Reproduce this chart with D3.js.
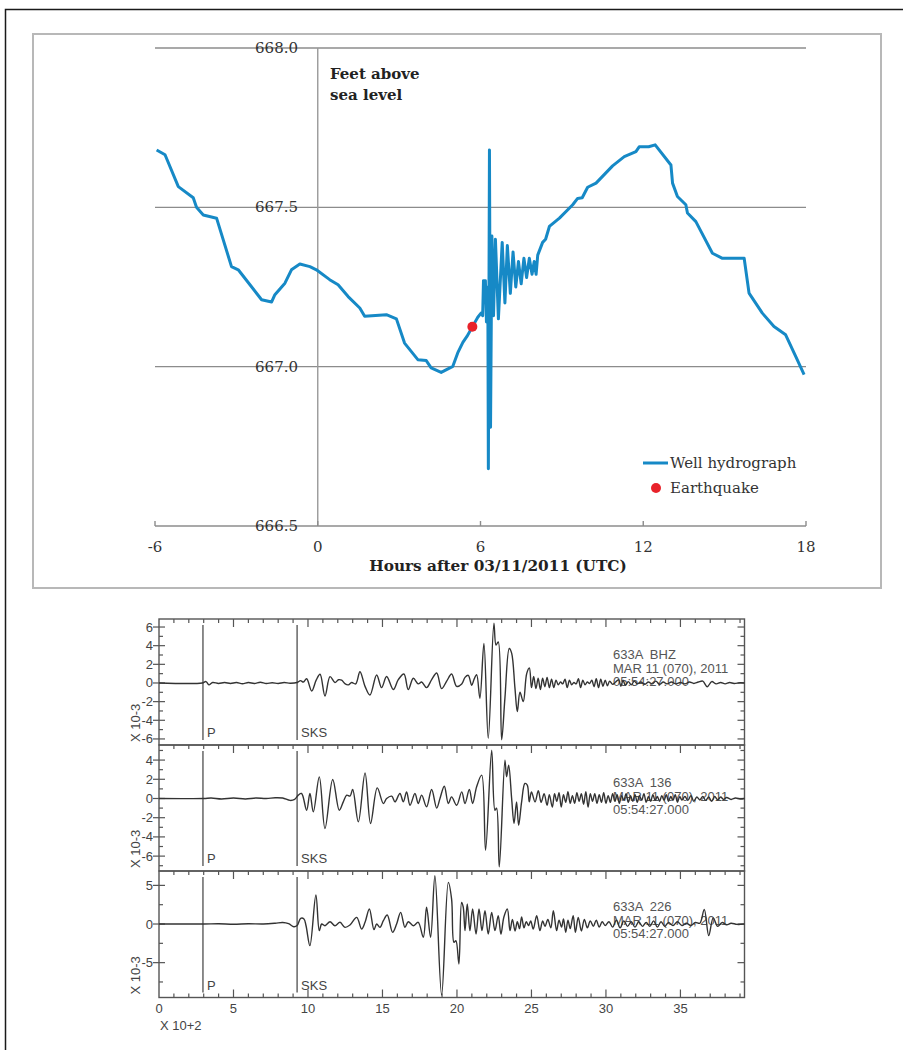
<!DOCTYPE html>
<html><head><meta charset="utf-8">
<script src="https://cdn.jsdelivr.net/npm/d3@7"></script>
<style>body{margin:0;background:#fff}</style>
</head><body>
<svg id="c" width="903" height="1050"></svg>
<script>
// ---------- Well hydrograph data ----------
const hydroHours = [-5.94,-5.63,-5.14,-4.59,-4.47,-4.22,-3.73,-3.18,-2.93,-2.07,-1.70,-1.58,-1.21,-0.97,-0.66,-0.29,-0.05,0.44,0.75,1.12,1.55,1.73,2.53,2.90,3.20,3.69,4.00,4.18,4.55,4.98,5.16,5.35,5.50,5.72,5.90,6.02,6.08,6.11,6.18,6.22,6.27,6.29,6.33,6.37,6.42,6.48,6.55,6.66,6.80,6.90,6.99,7.10,7.20,7.30,7.40,7.50,7.60,7.70,7.80,7.90,7.98,8.05,8.11,8.29,8.40,8.54,8.91,9.40,9.58,9.75,9.95,10.26,10.87,11.30,11.73,11.85,12.20,12.44,13.02,13.08,13.26,13.57,13.63,13.94,14.55,14.92,15.72,15.90,16.39,16.82,17.25,17.62,17.93];
const hydroFeet = [667.68,667.665,667.565,667.53,667.50,667.476,667.466,667.314,667.304,667.21,667.203,667.226,667.262,667.304,667.322,667.314,667.304,667.273,667.257,667.22,667.184,667.158,667.163,667.15,667.074,667.022,667.019,666.996,666.982,667.001,667.043,667.076,667.095,667.128,667.155,667.168,667.16,667.27,667.27,667.14,667.25,666.68,667.68,666.81,667.41,667.16,667.40,667.15,667.39,667.20,667.38,667.23,667.36,667.25,667.33,667.26,667.34,667.28,667.34,667.29,667.33,667.29,667.35,667.39,667.40,667.44,667.466,667.508,667.528,667.53,667.563,667.576,667.63,667.659,667.675,667.69,667.69,667.696,667.633,667.576,667.534,667.508,667.482,667.455,667.356,667.34,667.34,667.231,667.168,667.126,667.10,667.032,666.975];
const quakeHour = [5.70];
const quakeFeet = [667.125];
const hydroXTicks = [-6, 0, 6, 12, 18];
const hydroYTicks = [666.5, 667.0, 667.5, 668.0];
const legendLabels = ["Well hydrograph", "Earthquake"];

// ---------- Seismogram data (x in units of 100 s, amplitude x 10^-3) ----------
const bhzT = [0,2.9,3.15,3.35,3.6,4.0,4.4,4.8,5.2,5.6,6.0,6.4,6.8,7.2,7.6,8.0,8.4,8.8,9.27,9.5,9.69,9.91,10.25,10.55,10.81,11.14,11.48,11.81,12.05,12.26,12.5,12.71,12.93,13.2,13.49,13.83,14.16,14.61,14.94,15.28,15.73,16.06,16.44,16.73,17.07,17.4,17.63,17.96,18.3,18.64,18.97,19.31,19.64,19.98,20.32,20.54,20.76,20.99,21.15,21.32,21.54,21.81,22.1,22.48,22.62,22.77,23.0,23.22,23.51,23.67,23.89,24.05,24.23,24.45,24.68,24.86,25.0,25.15,25.3,25.45,25.6,25.75,25.9,26.05,26.2,26.35,26.5,26.65,26.8,26.95,27.1,27.25,27.4,27.55,27.7,27.85,28.0,28.15,28.3,28.45,28.6,28.75,28.9,29.05,29.2,29.35,29.5,29.65,29.8,29.95,30.1,30.25,30.45,30.65,30.85,31.0,31.15,31.3,31.5,31.7,31.9,32.1,32.35,32.6,32.85,33.1,33.35,33.6,33.85,34.1,34.4,34.7,35.0,35.3,35.6,35.9,36.2,36.5,36.8,37.1,37.4,37.7,38.0,38.3,38.6,39.0,39.3];
const bhzV = [0,0,0.15,-0.2,0.05,-0.05,0.05,-0.05,0.05,-0.08,0.05,-0.05,0.08,-0.05,0.03,-0.05,0.05,-0.03,0.05,0.25,0.1,0.45,-0.86,0.3,0.93,-1.39,0.68,0.05,0.35,0.3,-0.1,-0.2,0.05,-0.1,1.21,-0.36,-1.29,0.86,-0.5,0.7,-0.7,0.36,0.96,-0.71,0.5,-0.1,0.1,-0.5,0.36,1.07,-0.6,0.2,0.96,-0.36,-0.1,0.6,0.82,-0.25,0.4,0.89,-1.64,4.25,-5.93,6.4,4.07,4.4,-6.1,-1.6,3.7,3.2,-0.5,-3.07,-1.0,-2.0,1.0,1.6,-0.5,0.7,-0.6,0.5,-0.7,0.5,-0.4,0.6,-0.5,0.4,-0.5,0.3,-0.2,0.1,-0.1,0.4,-0.5,0.3,-0.2,0.05,-0.1,0.45,-0.5,0.3,-0.2,0.1,-0.05,0.3,-0.4,0.45,-0.5,0.4,-0.35,0.3,-0.3,0.2,-0.15,0.1,0.35,-0.35,0.3,-0.25,0.15,-0.2,0.2,-0.1,0.1,-0.15,0.1,-0.1,0.2,-0.15,0.1,-0.1,0.1,-0.1,0.05,-0.1,0.1,-0.05,0.1,0.2,-0.4,0.15,-0.1,0.05,-0.1,0.05,-0.05,0.02,0];

const r136T = [0,3.0,3.5,4.2,5.0,5.8,6.5,7.2,7.8,8.3,8.8,9.1,9.35,9.57,9.91,10.13,10.36,10.76,11.14,11.66,12.1,12.37,12.6,12.82,13.0,13.38,13.83,14.2,14.65,15.06,15.28,15.62,15.84,16.17,16.4,16.62,16.85,17.18,17.4,17.63,17.96,18.3,18.64,18.86,19.15,19.42,19.64,19.98,20.32,20.54,20.83,21.05,21.32,21.66,21.92,22.33,22.55,22.66,22.84,23.22,23.33,23.47,23.67,23.83,24.0,24.14,24.34,24.56,24.72,24.85,25.0,25.24,25.46,25.65,25.85,26.05,26.2,26.4,26.55,26.7,26.85,27.0,27.15,27.3,27.45,27.6,27.75,27.9,28.05,28.2,28.35,28.5,28.65,28.8,28.95,29.1,29.25,29.4,29.55,29.7,29.85,30.0,30.15,30.3,30.45,30.6,30.75,30.9,31.05,31.2,31.35,31.5,31.65,31.8,31.95,32.1,32.25,32.4,32.55,32.7,32.85,33.0,33.15,33.3,33.45,33.6,33.75,33.9,34.05,34.2,34.35,34.5,34.65,34.8,34.95,35.1,35.3,35.5,35.7,35.9,36.1,36.3,36.5,36.7,36.9,37.1,37.3,37.5,37.7,37.9,38.1,38.4,38.7,39.0,39.3];
const r136V = [0,0,0.05,-0.05,0.05,-0.05,0.05,0,0.08,0.05,-0.2,-0.1,0.35,0.52,-1.22,0.52,-1.39,2.25,-3.13,1.98,-1.22,-0.35,0.35,0.25,0.93,-2.43,2.67,-2.6,1.1,-0.52,0,0.24,-0.35,0.52,-0.35,0.69,-0.7,0.52,-0.52,0.35,-0.87,0.93,-1.0,0,1.28,-0.52,0.17,-0.7,0.69,-0.52,0.93,-0.52,1.22,2.43,-5.39,5.03,-1.22,-1.0,-7.12,3.99,2.25,3.47,0,-2.6,-0.35,-2.78,-0.35,1.56,1.4,-0.35,0.69,-0.35,0.8,-0.4,0.5,-0.7,0.4,-0.9,0.5,-0.3,0.6,-0.9,0.4,-0.4,0.7,-0.5,0.3,-0.5,0.6,-0.3,0.5,-0.6,0.7,-0.9,0.5,-0.3,0.5,-0.5,0.4,-0.4,0.6,-0.5,0.3,-0.4,0.5,-0.3,0.4,-0.5,0.3,-0.2,0.5,-0.4,0.3,-0.3,0.4,-0.4,0.3,-0.2,0.5,-0.4,0.2,-0.3,0.4,-0.2,0.2,-0.3,0.3,-0.2,0.4,-0.3,0.2,-0.2,0.4,-0.4,0.2,-0.15,0.2,-0.2,0.3,-0.3,0.15,-0.15,0.2,-0.2,0.15,-0.3,0.2,-0.15,0.15,-0.1,0.1,-0.1,0.05,-0.05,0];

const r226T = [0,3,4,5,6,7,7.8,8.3,8.7,9.05,9.27,9.51,9.73,9.87,10.13,10.53,10.76,10.92,11.14,11.48,11.81,12.15,12.48,12.82,13.27,13.6,13.83,14.12,14.43,14.61,14.83,15.06,15.32,15.68,15.95,16.22,16.51,16.73,17.07,17.4,17.74,17.96,18.23,18.52,18.97,19.42,19.64,19.8,19.93,20.13,20.31,20.42,20.54,20.69,20.87,21.05,21.28,21.48,21.68,21.88,22.1,22.33,22.55,22.77,22.95,23.15,23.38,23.56,23.72,23.9,24.05,24.2,24.34,24.5,24.65,24.8,24.95,25.12,25.35,25.57,25.75,25.91,26.1,26.3,26.47,26.69,26.85,27.02,27.15,27.3,27.45,27.6,27.8,27.95,28.14,28.35,28.55,28.75,28.95,29.15,29.35,29.55,29.75,29.95,30.2,30.45,30.7,30.95,31.2,31.45,31.7,31.95,32.2,32.45,32.7,32.95,33.2,33.45,33.7,33.95,34.2,34.5,34.8,35.1,35.4,35.7,36.0,36.3,36.6,36.9,37.2,37.5,37.8,38.1,38.4,38.8,39.3];
const r226V = [0,0,0.03,-0.03,0.03,0,0.1,0.2,0.05,-0.35,-0.2,0.73,0.65,-0.22,-2.8,3.75,-0.86,0,-0.22,0.3,-0.22,0.22,-0.43,-0.13,0.86,-0.65,0.22,1.94,-0.73,0,-0.43,0.43,1.16,-1.08,0,1.51,-0.43,0.3,-0.22,0.22,-1.72,2.16,-1.72,6.25,-9.19,5.39,3.23,-2.37,-2.16,-5.17,2.8,2.2,-0.86,2.59,-0.86,1.94,-1.29,1.94,-0.86,1.72,-1.29,1.51,-0.86,1.08,-1.3,0.9,1.94,-0.86,0.6,-0.9,0.3,-0.6,0.9,-0.5,0.3,-0.2,0.4,-0.65,1.08,-0.86,0.4,-0.3,0.6,-0.5,1.72,-0.86,0.5,-0.4,0.65,-1.08,0.5,-0.6,1.08,-1.08,0.86,-0.9,0.6,-0.5,0.4,-0.3,0.5,-0.4,0.3,-0.2,0.3,-0.4,0.5,-0.5,0.4,-0.3,0.3,-0.4,0.3,-0.3,0.2,-0.3,0.4,-0.4,0.3,-0.3,0.2,-0.2,0.3,-0.2,0.1,-0.2,0.2,0.1,1.9,-1.5,0.8,-0.3,0.2,-0.1,0.1,-0.05,0];

const stationLabels = [["633A  BHZ","MAR 11 (070), 2011","05:54:27.000"],["633A  136","MAR 11 (070), 2011","05:54:27.000"],["633A  226","MAR 11 (070), 2011","05:54:27.000"]];
const panelLabelTicks = [[-6,-4,-2,0,2,4,6],[-6,-4,-2,0,2,4],[-5,0,5]];
const panelMinorStep = [1,1,2.5];
const panelDomains = [[-6.65,6.86],[-7.55,5.57],[-9.51,6.86]];
const seisXTicks = [0,5,10,15,20,25,30,35];
const phaseTimes = [2.95, 9.27];
const phaseNames = ["P","SKS"];

// ---------- Drawing ----------
const svg = d3.select("#c");
const serif = "'DejaVu Serif', serif";
const sans = "'Liberation Sans', Arial, sans-serif";

svg.append("rect").attr("x",5.5).attr("y",9.5).attr("width",1000).attr("height",1100)
  .attr("fill","none").attr("stroke","#1a1a1a").attr("stroke-width",1.5);
svg.append("rect").attr("x",33).attr("y",34).attr("width",848).attr("height",554)
  .attr("fill","#fff").attr("stroke","#b8b8b8").attr("stroke-width",2);

const hx = d3.scaleLinear().domain([-6,18]).range([155,806]);
const hy = d3.scaleLinear().domain([666.5,668]).range([526,48]);
const gTop = svg.append("g");
gTop.selectAll("line.grid").data(hydroYTicks).join("line")
  .attr("x1",hx(-6)).attr("x2",hx(18)).attr("y1",d=>hy(d)).attr("y2",d=>hy(d))
  .attr("stroke","#8c8c8c").attr("stroke-width",1.4);
gTop.append("line").attr("x1",hx(0)).attr("x2",hx(0)).attr("y1",hy(668)).attr("y2",hy(666.5))
  .attr("stroke","#9a9a9a").attr("stroke-width",1.4);
gTop.selectAll("line.xt").data(hydroXTicks).join("line")
  .attr("x1",d=>hx(d)).attr("x2",d=>hx(d)).attr("y1",hy(666.5)).attr("y2",hy(666.5)-5)
  .attr("stroke","#8c8c8c").attr("stroke-width",1.4);
gTop.selectAll("text.yl").data(hydroYTicks).join("text")
  .attr("x",298).attr("y",d=>hy(d)+5).attr("text-anchor","end")
  .attr("font-family",serif).attr("font-size",15).attr("fill","#333").text(d=>d.toFixed(1));
gTop.selectAll("text.xl").data(hydroXTicks).join("text")
  .attr("x",d=>hx(d)).attr("y",552).attr("text-anchor","middle")
  .attr("font-family",serif).attr("font-size",15).attr("fill","#333").text(d=>d);
gTop.append("text").attr("x",498).attr("y",571).attr("text-anchor","middle")
  .attr("font-family",serif).attr("font-weight","bold").attr("font-size",15.3).attr("fill","#222")
  .text("Hours after 03/11/2011 (UTC)");
gTop.append("text").attr("x",330).attr("y",79).attr("font-family",serif).attr("font-weight","bold")
  .attr("font-size",15).attr("fill","#222").text("Feet above");
gTop.append("text").attr("x",330).attr("y",100).attr("font-family",serif).attr("font-weight","bold")
  .attr("font-size",15).attr("fill","#222").text("sea level");

const hdata = hydroHours.map((h,i)=>[h,hydroFeet[i]]);
gTop.append("path").datum(hdata)
  .attr("d",d3.line().x(d=>hx(d[0])).y(d=>hy(d[1])))
  .attr("fill","none").attr("stroke","#1689c6").attr("stroke-width",3).attr("stroke-linejoin","round");
gTop.selectAll("circle.q").data(quakeHour).join("circle")
  .attr("cx",d=>hx(d)).attr("cy",(d,i)=>hy(quakeFeet[i])).attr("r",5).attr("fill","#e8222a");

gTop.append("line").attr("x1",643).attr("x2",668).attr("y1",463).attr("y2",463)
  .attr("stroke","#1689c6").attr("stroke-width",3);
gTop.append("circle").attr("cx",656).attr("cy",488).attr("r",5).attr("fill","#e8222a");
gTop.selectAll("text.lg").data(legendLabels).join("text")
  .attr("x",670).attr("y",(d,i)=>468+i*25).attr("font-family",serif).attr("font-size",15)
  .attr("fill","#333").text(d=>d);

// Seismograms
const sx = d3.scaleLinear().domain([0,39.3]).range([159,744.5]);
const panelTops = [619,745,871];
const panelBots = [745,871,997.5];
const traces = [[bhzT,bhzV],[r136T,r136V],[r226T,r226V]];
const frameCol = "#555";
const gBot = svg.append("g");

traces.forEach((tr,p)=>{
  const y = d3.scaleLinear().domain(panelDomains[p]).range([panelBots[p],panelTops[p]]);
  const g = gBot.append("g");
  g.append("rect").attr("x",sx(0)).attr("y",panelTops[p]).attr("width",sx(39.3)-sx(0))
    .attr("height",panelBots[p]-panelTops[p]).attr("fill","none").attr("stroke",frameCol).attr("stroke-width",1.4);
  const xt = d3.range(1,40);
  g.selectAll("line.tt").data(xt).join("line")
    .attr("x1",d=>sx(d)).attr("x2",d=>sx(d)).attr("y1",panelTops[p])
    .attr("y2",d=>panelTops[p]+(d%5===0?8:4)).attr("stroke",frameCol).attr("stroke-width",1.2);
  if(p===2){
    g.selectAll("line.bt").data(xt).join("line")
      .attr("x1",d=>sx(d)).attr("x2",d=>sx(d)).attr("y1",panelBots[p])
      .attr("y2",d=>panelBots[p]-(d%5===0?8:4)).attr("stroke",frameCol).attr("stroke-width",1.2);
  }
  const step = panelMinorStep[p];
  const dom = panelDomains[p];
  const yt = d3.range(Math.ceil(dom[0]/step)*step, dom[1], step);
  const isMajor = v => panelLabelTicks[p].some(t=>Math.abs(t-v)<1e-6);
  g.selectAll("line.ly").data(yt).join("line")
    .attr("x1",d=>sx(0)-(isMajor(d)?6:0)).attr("x2",d=>sx(0)+(isMajor(d)?6:4))
    .attr("y1",d=>y(d)).attr("y2",d=>y(d)).attr("stroke",frameCol).attr("stroke-width",1.2);
  g.selectAll("line.ry").data(yt).join("line")
    .attr("x1",sx(39.3)).attr("x2",d=>sx(39.3)-(isMajor(d)?7:4))
    .attr("y1",d=>y(d)).attr("y2",d=>y(d)).attr("stroke",frameCol).attr("stroke-width",1.2);
  g.selectAll("text.yl").data(panelLabelTicks[p]).join("text")
    .attr("x",sx(0)-6).attr("y",d=>y(d)+4.5).attr("text-anchor","end")
    .attr("font-family",sans).attr("font-size",13).attr("fill","#444").text(d=>d);
  g.append("text").attr("transform",`translate(140,${panelBots[p]-3}) rotate(-90)`)
    .attr("font-family",sans).attr("font-size",13).attr("fill","#444").text("X 10-3");
  phaseTimes.forEach((t,k)=>{
    g.append("line").attr("x1",sx(t)).attr("x2",sx(t)).attr("y1",panelTops[p]+6).attr("y2",panelBots[p]-5)
      .attr("stroke","#666").attr("stroke-width",1.5);
    g.append("text").attr("x",sx(t)+4).attr("y",panelBots[p]-8).attr("font-family",sans)
      .attr("font-size",13).attr("fill","#444").text(phaseNames[k]);
  });
  g.selectAll("text.st").data(stationLabels[p]).join("text")
    .attr("x",613).attr("y",(d,i)=>panelTops[p]+(p===1?42:40)+i*13.5)
    .attr("font-family",sans).attr("font-size",13).attr("fill","#555")
    .style("white-space","pre").text(d=>d);
  const data = tr[0].map((t,i)=>[t,tr[1][i]]);
  g.append("path").datum(data)
    .attr("d",d3.line().x(d=>sx(d[0])).y(d=>y(d[1])).curve(d3.curveCatmullRom.alpha(0.5)))
    .attr("fill","none").attr("stroke","#333").attr("stroke-width",1.4);
});
gBot.selectAll("text.xl").data(seisXTicks).join("text")
  .attr("x",d=>sx(d)).attr("y",1013).attr("text-anchor","middle")
  .attr("font-family",sans).attr("font-size",13).attr("fill","#444").text(d=>d);
gBot.append("text").attr("x",160).attr("y",1030).attr("font-family",sans).attr("font-size",13)
  .attr("fill","#444").text("X 10+2");
</script>
</body></html>
